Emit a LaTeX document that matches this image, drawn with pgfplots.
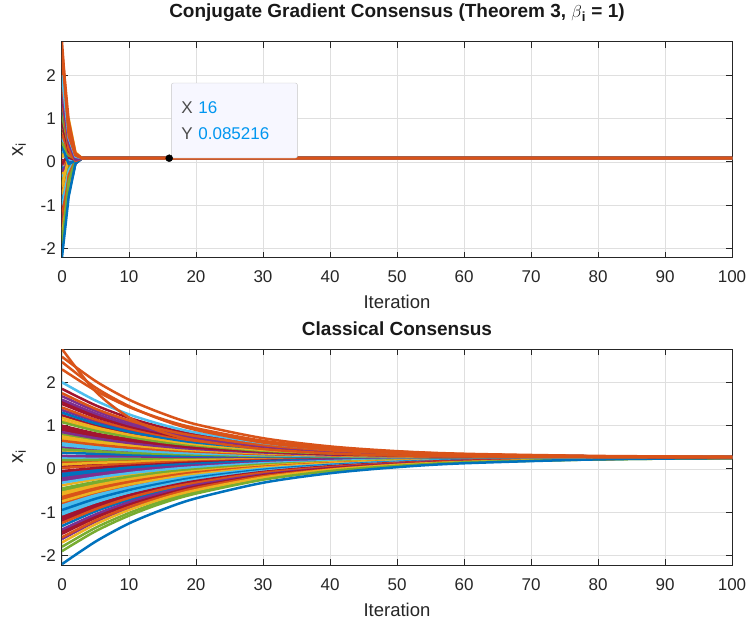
\documentclass[border=0pt]{standalone}
\usepackage{pgfplots}
\pgfplotsset{compat=1.18}
\usepackage{fontspec}
\setmainfont{Liberation Sans}
\definecolor{mB}{rgb}{0,0.447,0.741}
\definecolor{mO}{rgb}{0.85,0.325,0.098}
\definecolor{mY}{rgb}{0.929,0.694,0.125}
\definecolor{mP}{rgb}{0.494,0.184,0.556}
\definecolor{mG}{rgb}{0.466,0.674,0.188}
\definecolor{mL}{rgb}{0.301,0.745,0.933}
\definecolor{mR}{rgb}{0.635,0.078,0.184}
\definecolor{axc}{HTML}{262626}
\definecolor{gridc}{HTML}{DFDFDF}
\definecolor{tipblue}{RGB}{0,150,240}
\pgfplotsset{
  ln/.style={line width=2.5pt, line join=round},
  lns/.style={line width=2.5pt, line join=round, smooth, tension=0.5},
  mstyle/.style={
    scale only axis, width=670pt, height=216pt,
    xmin=0, xmax=100, ymin=-2.22, ymax=2.77,
    xtick={0,10,...,100}, xticklabels={0,10,20,30,40,50,60,70,80,90,100},
    ytick={-2,-1,0,1,2}, yticklabels={-2,-1,0,1,2},
    grid=major, major grid style={draw=gridc, line width=0.8pt},
    axis line style={draw=axc, line width=1pt},
    major tick style={draw=axc, line width=1pt}, major tick length=6pt,
    tick align=inside,
    tick label style={font=\fontsize{17}{20}\selectfont, text=axc},
    xticklabel style={anchor=base, yshift=-25pt},
    yticklabel style={anchor=east, inner sep=0pt, xshift=-6pt},
    label style={font=\fontsize{18.5}{22}\selectfont, text=axc},
    xlabel={Iteration},
    xlabel style={at={(axis description cs:0.5,0)}, anchor=base, yshift=-51pt},
    ylabel={x\textsubscript{i}},
    ylabel style={at={(axis description cs:-0.064,0.5)}, anchor=center, font=\fontsize{20}{22}\selectfont},
    title style={font=\bfseries\fontsize{19}{22}\selectfont, at={(axis description cs:0.5,1)}, anchor=base, text=black!90},
  }
}
\newcommand{\cg}[4]{\addplot[#1,ln] coordinates {(0,#2)(1,#3)(2,#4)(3,0.085)(100,0.085)};}
\begin{document}
\begin{tikzpicture}
\useasboundingbox (-62pt,-59pt) rectangle (687pt,565pt);
% ---------------- top axis ----------------
\begin{axis}[mstyle, at={(0pt,307pt)}, anchor=south west,
  title={Conjugate Gradient Consensus (Theorem 3, $\beta$\textsubscript{i} = 1)},
  title style={yshift=18pt}]
\cg{mL}{0.25}{-0.10}{0.04}
\cg{mO}{0.15}{0.20}{0.07}
\cg{mR}{0.06}{-0.15}{0.02}
\cg{mP}{-0.08}{0.12}{0.08}
\cg{mB}{-0.17}{-0.35}{-0.01}
\cg{mP}{-0.27}{-0.05}{0.05}
\cg{mY}{-0.38}{0.30}{0.12}
\cg{mG}{-0.50}{-0.25}{0.03}
\cg{mY}{-0.60}{0.05}{0.08}
\cg{mO}{-0.70}{-0.50}{-0.02}
\cg{mO}{-0.80}{-0.15}{0.04}
\cg{mL}{-0.90}{-0.40}{0.01}
\cg{mL}{-1.00}{-0.65}{-0.03}
\cg{mR}{-1.10}{-0.30}{0.03}
\cg{mR}{-1.20}{-0.55}{-0.01}
\cg{mB}{-1.32}{-0.75}{-0.04}
\cg{mR}{-1.45}{-0.35}{0.02}
\cg{mP}{-1.62}{-0.60}{0.00}
\cg{mG}{-1.80}{-0.20}{0.05}
\cg{mG}{0.20}{0.05}{0.08}
\cg{mY}{0.10}{0.40}{0.13}
\cg{mO}{0.02}{-0.10}{0.05}
\cg{mR}{-0.05}{0.18}{0.10}
\cg{mB}{-0.12}{-0.20}{0.02}
\cg{mP}{-0.22}{0.00}{0.06}
\cg{mL}{-0.32}{-0.30}{0.00}
\cg{mG}{-0.45}{-0.15}{0.04}
\cg{mY}{-0.55}{0.10}{0.09}
\cg{mO}{-0.65}{-0.45}{-0.02}
\cg{mY}{-0.75}{-0.25}{0.05}
\cg{mL}{-0.85}{-0.55}{0.00}
\cg{mB}{-0.95}{-0.35}{0.03}
\cg{mL}{-1.05}{-0.20}{0.06}
\cg{mR}{-1.15}{-0.60}{-0.03}
\cg{mO}{-1.25}{-0.40}{0.02}
\cg{mP}{-1.40}{-0.70}{-0.02}
\cg{mR}{-1.50}{-0.50}{0.01}
\cg{mO}{-1.58}{-0.30}{0.04}
\cg{mY}{-1.70}{-0.65}{0.00}
\cg{mG}{-1.90}{-0.45}{0.03}
\cg{mB}{-2.20}{-0.80}{-0.04}
\cg{mY}{0.40}{0.70}{0.17}
\cg{mP}{0.50}{0.25}{0.08}
\cg{mL}{0.60}{0.05}{0.06}
\cg{mY}{0.70}{0.60}{0.14}
\cg{mG}{0.80}{0.35}{0.09}
\cg{mR}{0.90}{0.10}{0.04}
\cg{mR}{1.00}{0.45}{0.11}
\cg{mY}{1.12}{0.90}{0.20}
\cg{mR}{1.24}{0.20}{0.03}
\cg{mP}{1.36}{0.55}{0.10}
\cg{mR}{1.55}{0.28}{0.05}
\cg{mP}{1.68}{0.65}{0.15}
\cg{mR}{1.85}{0.40}{0.08}
\cg{mO}{2.30}{0.50}{0.12}
\cg{mP}{0.30}{0.22}{0.10}
\cg{mB}{0.37}{-0.05}{0.03}
\cg{mG}{0.45}{0.15}{0.07}
\cg{mL}{0.55}{0.30}{0.11}
\cg{mO}{0.65}{0.20}{0.04}
\cg{mY}{0.75}{0.85}{0.16}
\cg{mP}{0.85}{0.50}{0.09}
\cg{mR}{0.95}{0.25}{0.12}
\cg{mG}{1.08}{0.35}{0.06}
\cg{mY}{1.18}{1.00}{0.22}
\cg{mB}{1.30}{0.40}{0.10}
\cg{mO}{1.42}{0.30}{0.02}
\cg{mR}{1.50}{0.62}{0.14}
\cg{mP}{1.60}{0.45}{0.05}
\cg{mO}{1.75}{0.80}{0.18}
\cg{mL}{2.00}{0.55}{0.12}
\cg{mO}{2.77}{0.60}{0.16}
\cg{mO}{2.47}{0.70}{0.15}
\cg{mO}{2.59}{0.95}{0.20}
\addplot[only marks, mark=*, mark size=3.5pt, mark options={fill=black, draw=black}] coordinates {(16,0.085216)};
\node[draw=black!22, fill=white!97!blue, rounded corners=2pt, anchor=south west,
  minimum height=75pt, text width=106pt, inner xsep=10pt, align=left,
  font=\fontsize{17}{26}\selectfont, text=black!70, xshift=2pt]
  at (axis cs:16,0.085216) {X \textcolor{tipblue}{16}\\Y \textcolor{tipblue}{0.085216}};
\end{axis}
% ---------------- bottom axis ----------------
\begin{axis}[mstyle, at={(0pt,0pt)}, anchor=south west,
  title={Classical Consensus}, title style={yshift=8pt}]
% extra lines (negative side)
\addplot[mL,lns] coordinates {(0,0.25)(5,0.25)(10,0.26)(15,0.26)(20,0.26)(30,0.27)(40,0.27)(50,0.27)(60,0.27)(80,0.27)(100,0.27)};
\addplot[mO,lns] coordinates {(0,0.15)(5,0.18)(10,0.20)(15,0.21)(20,0.22)(30,0.24)(40,0.25)(50,0.26)(60,0.26)(80,0.27)(100,0.27)};
\addplot[mR,lns] coordinates {(0,0.06)(5,0.10)(10,0.14)(15,0.17)(20,0.19)(30,0.22)(40,0.24)(50,0.25)(60,0.26)(80,0.27)(100,0.27)};
\addplot[mP,lns] coordinates {(0,-0.08)(5,-0.01)(10,0.05)(15,0.10)(20,0.14)(30,0.19)(40,0.22)(50,0.24)(60,0.25)(80,0.26)(100,0.27)};
\addplot[mB,lns] coordinates {(0,-0.17)(5,-0.08)(10,0.00)(15,0.05)(20,0.10)(30,0.16)(40,0.20)(50,0.23)(60,0.24)(80,0.26)(100,0.27)};
\addplot[mP,lns] coordinates {(0,-0.27)(5,-0.16)(10,-0.07)(15,0.01)(20,0.06)(30,0.14)(40,0.19)(50,0.22)(60,0.24)(80,0.26)(100,0.27)};
\addplot[mY,lns] coordinates {(0,-0.38)(5,-0.24)(10,-0.13)(15,-0.05)(20,0.02)(30,0.11)(40,0.17)(50,0.21)(60,0.23)(80,0.26)(100,0.26)};
\addplot[mG,lns] coordinates {(0,-0.50)(5,-0.34)(10,-0.21)(15,-0.11)(20,-0.03)(30,0.09)(40,0.16)(50,0.20)(60,0.23)(80,0.25)(100,0.26)};
\addplot[mY,lns] coordinates {(0,-0.60)(5,-0.42)(10,-0.27)(15,-0.16)(20,-0.07)(30,0.06)(40,0.14)(50,0.19)(60,0.22)(80,0.25)(100,0.26)};
\addplot[mO,lns] coordinates {(0,-0.70)(5,-0.49)(10,-0.33)(15,-0.20)(20,-0.10)(30,0.04)(40,0.13)(50,0.18)(60,0.21)(80,0.25)(100,0.26)};
\addplot[mO,lns] coordinates {(0,-0.80)(5,-0.57)(10,-0.39)(15,-0.25)(20,-0.14)(30,0.01)(40,0.11)(50,0.17)(60,0.21)(80,0.25)(100,0.26)};
\addplot[mL,lns] coordinates {(0,-0.90)(5,-0.65)(10,-0.46)(15,-0.30)(20,-0.18)(30,-0.01)(40,0.10)(50,0.16)(60,0.20)(80,0.24)(100,0.26)};
\addplot[mL,lns] coordinates {(0,-1.00)(5,-0.73)(10,-0.52)(15,-0.35)(20,-0.22)(30,-0.03)(40,0.08)(50,0.15)(60,0.20)(80,0.24)(100,0.26)};
\addplot[mR,lns] coordinates {(0,-1.10)(5,-0.81)(10,-0.58)(15,-0.40)(20,-0.26)(30,-0.06)(40,0.07)(50,0.14)(60,0.19)(80,0.24)(100,0.26)};
\addplot[mR,lns] coordinates {(0,-1.20)(5,-0.89)(10,-0.64)(15,-0.45)(20,-0.30)(30,-0.08)(40,0.05)(50,0.13)(60,0.19)(80,0.24)(100,0.26)};
\addplot[mB,lns] coordinates {(0,-1.32)(5,-0.98)(10,-0.72)(15,-0.51)(20,-0.34)(30,-0.11)(40,0.03)(50,0.12)(60,0.18)(80,0.23)(100,0.26)};
\addplot[mR,lns] coordinates {(0,-1.45)(5,-1.09)(10,-0.80)(15,-0.57)(20,-0.39)(30,-0.14)(40,0.01)(50,0.11)(60,0.17)(80,0.23)(100,0.26)};
\addplot[mP,lns] coordinates {(0,-1.62)(5,-1.22)(10,-0.90)(15,-0.66)(20,-0.46)(30,-0.18)(40,-0.01)(50,0.10)(60,0.16)(80,0.23)(100,0.25)};
\addplot[mG,lns] coordinates {(0,-1.80)(5,-1.36)(10,-1.02)(15,-0.74)(20,-0.53)(30,-0.23)(40,-0.04)(50,0.08)(60,0.15)(80,0.22)(100,0.25)};
% main lines (negative side)
\addplot[mG,lns] coordinates {(0,0.20)(5,0.21)(10,0.23)(15,0.24)(20,0.24)(30,0.25)(40,0.26)(50,0.26)(60,0.27)(80,0.27)(100,0.27)};
\addplot[mY,lns] coordinates {(0,0.10)(5,0.14)(10,0.16)(15,0.19)(20,0.20)(30,0.23)(40,0.25)(50,0.25)(60,0.26)(80,0.27)(100,0.27)};
\addplot[mO,lns] coordinates {(0,0.02)(5,0.07)(10,0.11)(15,0.15)(20,0.17)(30,0.21)(40,0.23)(50,0.25)(60,0.26)(80,0.26)(100,0.27)};
\addplot[mR,lns] coordinates {(0,-0.05)(5,0.02)(10,0.07)(15,0.11)(20,0.15)(30,0.19)(40,0.22)(50,0.24)(60,0.25)(80,0.26)(100,0.27)};
\addplot[mB,lns] coordinates {(0,-0.12)(5,-0.04)(10,0.03)(15,0.08)(20,0.12)(30,0.18)(40,0.21)(50,0.23)(60,0.25)(80,0.26)(100,0.27)};
\addplot[mP,lns] coordinates {(0,-0.22)(5,-0.12)(10,-0.03)(15,0.03)(20,0.08)(30,0.15)(40,0.20)(50,0.22)(60,0.24)(80,0.26)(100,0.27)};
\addplot[mL,lns] coordinates {(0,-0.32)(5,-0.20)(10,-0.10)(15,-0.02)(20,0.04)(30,0.13)(40,0.18)(50,0.22)(60,0.24)(80,0.26)(100,0.27)};
\addplot[mG,lns] coordinates {(0,-0.45)(5,-0.30)(10,-0.18)(15,-0.08)(20,-0.01)(30,0.10)(40,0.16)(50,0.20)(60,0.23)(80,0.25)(100,0.26)};
\addplot[mY,lns] coordinates {(0,-0.55)(5,-0.38)(10,-0.24)(15,-0.13)(20,-0.05)(30,0.07)(40,0.15)(50,0.19)(60,0.22)(80,0.25)(100,0.26)};
\addplot[mO,lns] coordinates {(0,-0.65)(5,-0.45)(10,-0.30)(15,-0.18)(20,-0.08)(30,0.05)(40,0.13)(50,0.18)(60,0.22)(80,0.25)(100,0.26)};
\addplot[mY,lns] coordinates {(0,-0.75)(5,-0.53)(10,-0.36)(15,-0.23)(20,-0.12)(30,0.03)(40,0.12)(50,0.18)(60,0.21)(80,0.25)(100,0.26)};
\addplot[mL,lns] coordinates {(0,-0.85)(5,-0.61)(10,-0.43)(15,-0.28)(20,-0.16)(30,0.00)(40,0.10)(50,0.17)(60,0.21)(80,0.25)(100,0.26)};
\addplot[mB,lns] coordinates {(0,-0.95)(5,-0.69)(10,-0.49)(15,-0.33)(20,-0.20)(30,-0.02)(40,0.09)(50,0.16)(60,0.20)(80,0.24)(100,0.26)};
\addplot[mL,lns] coordinates {(0,-1.05)(5,-0.77)(10,-0.55)(15,-0.38)(20,-0.24)(30,-0.05)(40,0.07)(50,0.15)(60,0.19)(80,0.24)(100,0.26)};
\addplot[mR,lns] coordinates {(0,-1.15)(5,-0.85)(10,-0.61)(15,-0.43)(20,-0.28)(30,-0.07)(40,0.06)(50,0.14)(60,0.19)(80,0.24)(100,0.26)};
\addplot[mO,lns] coordinates {(0,-1.25)(5,-0.93)(10,-0.67)(15,-0.47)(20,-0.32)(30,-0.09)(40,0.04)(50,0.13)(60,0.18)(80,0.24)(100,0.26)};
\addplot[mP,lns] coordinates {(0,-1.40)(5,-1.05)(10,-0.77)(15,-0.55)(20,-0.37)(30,-0.13)(40,0.02)(50,0.12)(60,0.17)(80,0.23)(100,0.26)};
\addplot[mR,lns] coordinates {(0,-1.50)(5,-1.13)(10,-0.83)(15,-0.60)(20,-0.41)(30,-0.15)(40,0.01)(50,0.11)(60,0.17)(80,0.23)(100,0.26)};
\addplot[mO,lns] coordinates {(0,-1.58)(5,-1.19)(10,-0.88)(15,-0.64)(20,-0.44)(30,-0.17)(40,-0.01)(50,0.10)(60,0.16)(80,0.23)(100,0.25)};
\addplot[mY,lns] coordinates {(0,-1.70)(5,-1.28)(10,-0.95)(15,-0.69)(20,-0.49)(30,-0.20)(40,-0.02)(50,0.09)(60,0.16)(80,0.23)(100,0.25)};
\addplot[mG,lns] coordinates {(0,-1.90)(5,-1.44)(10,-1.08)(15,-0.79)(20,-0.57)(30,-0.25)(40,-0.05)(50,0.07)(60,0.15)(80,0.22)(100,0.25)};
\addplot[mB,lns] coordinates {(0,-2.20)(5,-1.68)(10,-1.26)(15,-0.94)(20,-0.68)(30,-0.32)(40,-0.10)(50,0.04)(60,0.13)(80,0.22)(100,0.25)};
% extra lines (positive side)
\addplot[mY,lns] coordinates {(0,0.40)(5,0.37)(10,0.34)(15,0.33)(20,0.31)(30,0.29)(40,0.28)(50,0.28)(60,0.27)(80,0.27)(100,0.27)};
\addplot[mP,lns] coordinates {(0,0.50)(5,0.44)(10,0.40)(15,0.37)(20,0.35)(30,0.31)(40,0.30)(50,0.28)(60,0.28)(80,0.27)(100,0.27)};
\addplot[mL,lns] coordinates {(0,0.60)(5,0.52)(10,0.46)(15,0.41)(20,0.38)(30,0.33)(40,0.31)(50,0.29)(60,0.28)(80,0.27)(100,0.27)};
\addplot[mY,lns] coordinates {(0,0.70)(5,0.60)(10,0.52)(15,0.46)(20,0.41)(30,0.35)(40,0.32)(50,0.30)(60,0.29)(80,0.28)(100,0.27)};
\addplot[mG,lns] coordinates {(0,0.80)(5,0.67)(10,0.57)(15,0.50)(20,0.44)(30,0.37)(40,0.33)(50,0.30)(60,0.29)(80,0.28)(100,0.27)};
\addplot[mR,lns] coordinates {(0,0.90)(5,0.75)(10,0.63)(15,0.54)(20,0.48)(30,0.39)(40,0.34)(50,0.31)(60,0.29)(80,0.28)(100,0.27)};
\addplot[mR,lns] coordinates {(0,1.00)(5,0.82)(10,0.69)(15,0.59)(20,0.51)(30,0.41)(40,0.35)(50,0.32)(60,0.30)(80,0.28)(100,0.27)};
\addplot[mY,lns] coordinates {(0,1.12)(5,0.91)(10,0.76)(15,0.64)(20,0.55)(30,0.43)(40,0.36)(50,0.32)(60,0.30)(80,0.28)(100,0.27)};
\addplot[mR,lns] coordinates {(0,1.24)(5,1.00)(10,0.83)(15,0.69)(20,0.59)(30,0.45)(40,0.38)(50,0.33)(60,0.31)(80,0.28)(100,0.27)};
\addplot[mP,lns] coordinates {(0,1.36)(5,1.10)(10,0.90)(15,0.74)(20,0.63)(30,0.48)(40,0.39)(50,0.34)(60,0.31)(80,0.28)(100,0.27)};
\addplot[mR,lns] coordinates {(0,1.55)(5,1.24)(10,1.00)(15,0.83)(20,0.69)(30,0.51)(40,0.41)(50,0.35)(60,0.32)(80,0.29)(100,0.27)};
\addplot[mP,lns] coordinates {(0,1.68)(5,1.34)(10,1.08)(15,0.88)(20,0.73)(30,0.54)(40,0.42)(50,0.36)(60,0.32)(80,0.29)(100,0.28)};
\addplot[mR,lns] coordinates {(0,1.85)(5,1.47)(10,1.18)(15,0.96)(20,0.79)(30,0.57)(40,0.44)(50,0.37)(60,0.33)(80,0.29)(100,0.28)};
% main lines (positive side)
\addplot[mP,lns] coordinates {(0,0.30)(5,0.29)(10,0.29)(15,0.28)(20,0.28)(30,0.28)(40,0.27)(50,0.27)(60,0.27)(80,0.27)(100,0.27)};
\addplot[mB,lns] coordinates {(0,0.37)(5,0.35)(10,0.33)(15,0.31)(20,0.30)(30,0.29)(40,0.28)(50,0.28)(60,0.27)(80,0.27)(100,0.27)};
\addplot[mG,lns] coordinates {(0,0.45)(5,0.41)(10,0.37)(15,0.35)(20,0.33)(30,0.30)(40,0.29)(50,0.28)(60,0.28)(80,0.27)(100,0.27)};
\addplot[mL,lns] coordinates {(0,0.55)(5,0.48)(10,0.43)(15,0.39)(20,0.36)(30,0.32)(40,0.30)(50,0.29)(60,0.28)(80,0.27)(100,0.27)};
\addplot[mO,lns] coordinates {(0,0.65)(5,0.56)(10,0.49)(15,0.44)(20,0.40)(30,0.34)(40,0.31)(50,0.29)(60,0.28)(80,0.27)(100,0.27)};
\addplot[mY,lns] coordinates {(0,0.75)(5,0.63)(10,0.55)(15,0.48)(20,0.43)(30,0.36)(40,0.32)(50,0.30)(60,0.29)(80,0.28)(100,0.27)};
\addplot[mP,lns] coordinates {(0,0.85)(5,0.71)(10,0.60)(15,0.52)(20,0.46)(30,0.38)(40,0.33)(50,0.31)(60,0.29)(80,0.28)(100,0.27)};
\addplot[mR,lns] coordinates {(0,0.95)(5,0.79)(10,0.66)(15,0.57)(20,0.49)(30,0.40)(40,0.34)(50,0.31)(60,0.29)(80,0.28)(100,0.27)};
\addplot[mG,lns] coordinates {(0,1.08)(5,0.88)(10,0.74)(15,0.62)(20,0.54)(30,0.42)(40,0.36)(50,0.32)(60,0.30)(80,0.28)(100,0.27)};
\addplot[mY,lns] coordinates {(0,1.18)(5,0.96)(10,0.79)(15,0.67)(20,0.57)(30,0.44)(40,0.37)(50,0.33)(60,0.30)(80,0.28)(100,0.27)};
\addplot[mB,lns] coordinates {(0,1.30)(5,1.05)(10,0.86)(15,0.72)(20,0.61)(30,0.47)(40,0.38)(50,0.33)(60,0.31)(80,0.28)(100,0.27)};
\addplot[mO,lns] coordinates {(0,1.42)(5,1.14)(10,0.93)(15,0.77)(20,0.65)(30,0.49)(40,0.40)(50,0.34)(60,0.31)(80,0.28)(100,0.27)};
\addplot[mR,lns] coordinates {(0,1.50)(5,1.20)(10,0.98)(15,0.81)(20,0.68)(30,0.50)(40,0.40)(50,0.35)(60,0.31)(80,0.28)(100,0.27)};
\addplot[mP,lns] coordinates {(0,1.60)(5,1.28)(10,1.03)(15,0.85)(20,0.71)(30,0.52)(40,0.41)(50,0.35)(60,0.32)(80,0.29)(100,0.28)};
\addplot[mO,lns] coordinates {(0,1.75)(5,1.39)(10,1.12)(15,0.91)(20,0.76)(30,0.55)(40,0.43)(50,0.36)(60,0.32)(80,0.29)(100,0.28)};
\addplot[mL,lns] coordinates {(0,2.00)(5,1.58)(10,1.26)(15,1.02)(20,0.84)(30,0.60)(40,0.46)(50,0.38)(60,0.33)(80,0.29)(100,0.28)};
\addplot[mO,lns] coordinates {(0,2.30)(5,1.81)(10,1.43)(15,1.15)(20,0.94)(30,0.65)(40,0.49)(50,0.40)(60,0.34)(80,0.29)(100,0.28)};
\addplot[mO,lns] coordinates {(0,2.77)(5,1.79)(10,1.19)(15,0.85)(20,0.66)(30,0.46)(40,0.36)(50,0.31)(60,0.29)(80,0.28)(100,0.27)};
\addplot[mO,lns] coordinates {(0,2.47)(5,1.88)(10,1.45)(15,1.13)(20,0.90)(30,0.61)(40,0.45)(50,0.37)(60,0.32)(80,0.28)(100,0.27)};
\addplot[mO,lns] coordinates {(0,2.59)(5,2.03)(10,1.60)(15,1.28)(20,1.03)(30,0.71)(40,0.52)(50,0.41)(60,0.35)(80,0.30)(100,0.28)};
\end{axis}
\end{tikzpicture}
\end{document}
